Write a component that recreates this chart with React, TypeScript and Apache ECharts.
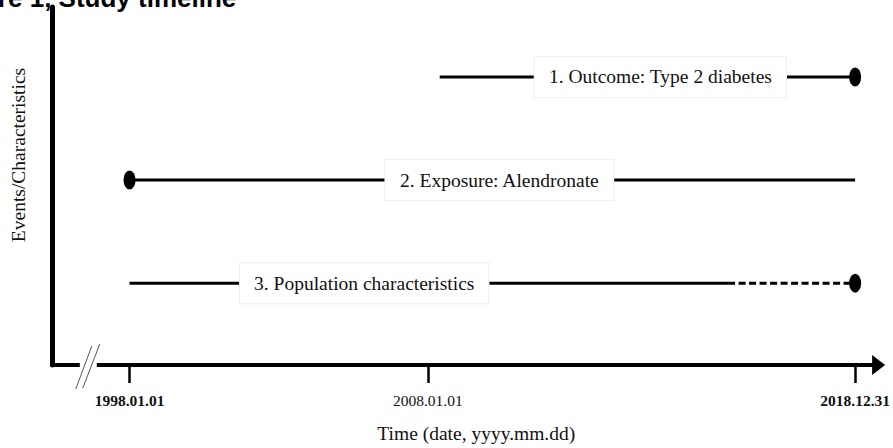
import React, { useEffect, useRef } from "react";
import * as echarts from "echarts";

// Schematic timeline units: 1998.01.01 = 0, 2008.01.01 = 10 (axis is broken / not to scale)
const tickPositions = [0, 10, 24.33];
const tickLabels = ["1998.01.01", "2008.01.01", "2018.12.31"];
const tickBold = [true, false, true];

const rowNames = [
  "1. Outcome: Type 2 diabetes",
  "2. Exposure: Alendronate",
  "3. Population characteristics",
];
const rowLevels = [3, 2, 1];
const solidStarts = [10.4, 0, 0];
const solidEnds = [24.33, 24.33, 20.07];
const dashedStarts = [null, null, 20.07];
const dashedEnds = [null, null, 24.33];
const dotPositions = [24.33, 0, 24.33];
const labelCenters = [17.8, 12.4, 7.87];

const xMin = -2.6;
const xMax = 25.117;
const yMin = 0.206;
const yMax = 3.679;
const breakValue = -1.4;

const SERIF = "'Liberation Serif', 'Times New Roman', serif";
const SANS = "'Liberation Sans', Arial, sans-serif";
const ELLIPSE = "path://M0 10 A10 10 0 1 1 20 10 A10 10 0 1 1 0 10 Z";

export default function App() {
  const ref = useRef<HTMLDivElement>(null);
  useEffect(() => {
    if (!ref.current) return;
    const chart = echarts.init(ref.current, null, { renderer: "svg" });

    const series: any[] = [];
    rowNames.forEach((name, i) => {
      series.push({
        type: "line",
        name: name + " (solid)",
        data: [
          [solidStarts[i], rowLevels[i]],
          [solidEnds[i], rowLevels[i]],
        ],
        symbol: "none",
        lineStyle: { color: "#000", width: 3 },
        z: 2,
        silent: true,
      });
      if (dashedStarts[i] != null) {
        series.push({
          type: "line",
          name: name + " (dashed)",
          data: [
            [dashedStarts[i], rowLevels[i]],
            [dashedEnds[i], rowLevels[i]],
          ],
          symbol: "none",
          lineStyle: { color: "#000", width: 3, type: [7, 3.5] },
          z: 2,
          silent: true,
        });
      }
    });
    series.push({
      type: "scatter",
      name: "dots",
      data: rowLevels.map((lv, i) => [dotPositions[i], lv]),
      symbol: ELLIPSE,
      symbolSize: [12, 19],
      itemStyle: { color: "#000", opacity: 1 },
      z: 3,
      silent: true,
    });
    series.push({
      type: "scatter",
      name: "labels",
      data: rowLevels.map((lv, i) => ({ value: [labelCenters[i], lv], name: rowNames[i] })),
      symbolSize: 0,
      z: 5,
      silent: true,
      itemStyle: { opacity: 1 },
      label: {
        show: true,
        position: "inside",
        formatter: (p: any) => p.name,
        fontFamily: SERIF,
        fontSize: 19.5,
        color: "#111",
        opacity: 1,
        backgroundColor: "#fff",
        borderColor: "#efefef",
        borderWidth: 1,
        padding: [10, 14],
      },
    });

    const isTick = (v: number) => tickPositions.findIndex((t) => Math.abs(t - v) < 1e-6);

    chart.setOption({
      animation: false,
      title: {
        text: "Figure 1, Study timeline",
        left: -57,
        top: -15,
        padding: 0,
        textStyle: { fontFamily: SANS, fontSize: 26, fontWeight: "bold", color: "#000" },
      },
      grid: { left: 52, right: 9.5, top: 7, bottom: 78 },
      xAxis: {
        type: "value",
        min: xMin,
        max: xMax,
        splitLine: { show: false },
        name: "Time (date, yyyy.mm.dd)",
        nameLocation: "middle",
        nameGap: 58,
        nameTextStyle: { fontFamily: SERIF, fontSize: 19.5, color: "#111", padding: [0, 0, 0, 22] },
        axisLine: {
          show: true,
          onZero: false,
          symbol: ["none", "triangle"],
          symbolSize: [20, 13],
          lineStyle: { color: "#000", width: 4 },
        },
        axisTick: {
          show: true,
          customValues: tickPositions,
          length: 18,
          lineStyle: { color: "#000", width: 2.5 },
        },
        axisLabel: {
          show: true,
          customValues: tickPositions,
          margin: 27,
          formatter: (v: number) => {
            const i = isTick(v);
            if (i < 0) return "";
            return (tickBold[i] ? "{b|" : "{n|") + tickLabels[i] + "}";
          },
          rich: {
            b: { fontFamily: SERIF, fontSize: 15.5, fontWeight: "bold", color: "#111" },
            n: { fontFamily: SERIF, fontSize: 15.5, fontWeight: "normal", color: "#111" },
          },
        },
      },
      yAxis: {
        type: "value",
        min: yMin,
        max: yMax,
        splitLine: { show: false },
        axisLine: { show: true, onZero: false, lineStyle: { color: "#000", width: 5 } },
        axisTick: { show: false },
        axisLabel: { show: false },
      },
      series,
    });

    const c = chart.convertToPixel({ gridIndex: 0 }, [breakValue, yMin]) as number[];
    const cx = c[0];
    const cy = c[1];
    chart.setOption({
      graphic: [
        {
          type: "text",
          x: 18.5,
          y: 155,
          rotation: Math.PI / 2,
          style: {
            text: "Events/Characteristics",
            font: `19.5px ${SERIF}`,
            fill: "#111",
            textAlign: "center",
            textVerticalAlign: "middle",
          },
        },
        {
          type: "rect",
          shape: { x: cx - 8, y: cy - 4, width: 17, height: 8 },
          style: { fill: "#fff" },
          z: 100,
        },
        {
          type: "line",
          shape: { x1: cx - 12, y1: cy + 24, x2: cx + 4, y2: cy - 19 },
          style: { stroke: "#555", lineWidth: 1 },
          z: 101,
        },
        {
          type: "line",
          shape: { x1: cx - 5, y1: cy + 23, x2: cx + 12, y2: cy - 21 },
          style: { stroke: "#555", lineWidth: 1 },
          z: 101,
        },
      ],
    });

    return () => chart.dispose();
  }, []);
  return (
    <div
      ref={ref}
      style={{ position: "fixed", left: 0, top: 0, width: 893, height: 448, background: "#fff" }}
    />
  );
}
